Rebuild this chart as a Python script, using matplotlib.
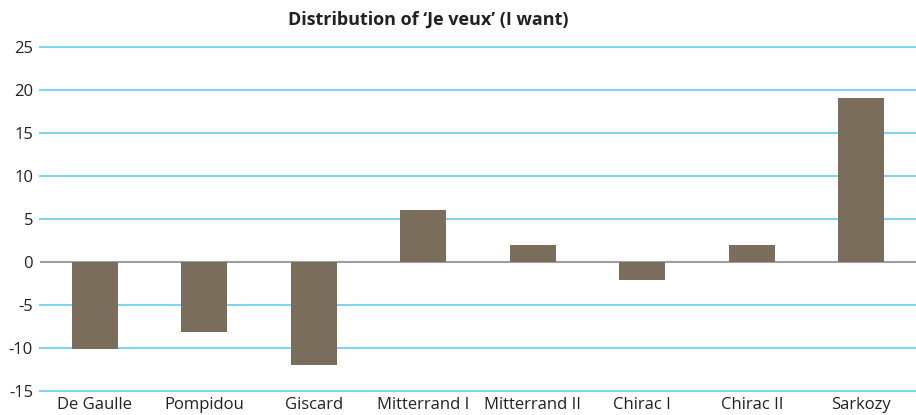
import matplotlib
matplotlib.use("Agg")
import matplotlib.pyplot as plt

categories = ["De Gaulle", "Pompidou", "Giscard", "Mitterrand I", "Mitterrand II",
              "Chirac I", "Chirac II", "Sarkozy"]
values = [-10.1, -8.1, -12.0, 6.0, 2.0, -2.1, 2.0, 19.1]
yticks = [-15, -10, -5, 0, 5, 10, 15, 20, 25]

plt.rcParams['font.family'] = ['Open Sans', 'DejaVu Sans']

fig = plt.figure(figsize=(9.16, 4.15), dpi=100)
ax = fig.add_axes([40/916, 1 - 391/415, 876/916, 344/415])

x = list(range(len(categories)))
for t in yticks:
    if t == 0:
        continue
    ax.axhline(t, color="#7fd4f2", lw=1.5, zorder=0, clip_on=False)
ax.axhline(0, color="#9e9e9e", lw=1.5, zorder=1)
ax.bar(x, values, width=0.42, color="#7a6d5c", zorder=2)

ax.set_xlim(-0.5, len(categories) - 0.5)
ax.set_ylim(-15, 25)
ax.set_yticks(yticks)
ax.set_yticklabels([str(t) for t in yticks], fontsize=12, color="#222222")
ax.set_xticks(x)
ax.set_xticklabels(categories, fontsize=12, color="#222222")
ax.tick_params(length=0, pad=5)
ax.tick_params(axis='x', pad=4)
for s in ax.spines.values():
    s.set_visible(False)

fig.text(428/916, 1 - 20/415, "Distribution of \u2018Je veux\u2019 (I want)",
         ha="center", va="center", fontsize=13, fontweight="bold", color="#222222")

fig.savefig("out.png", dpi=100)
